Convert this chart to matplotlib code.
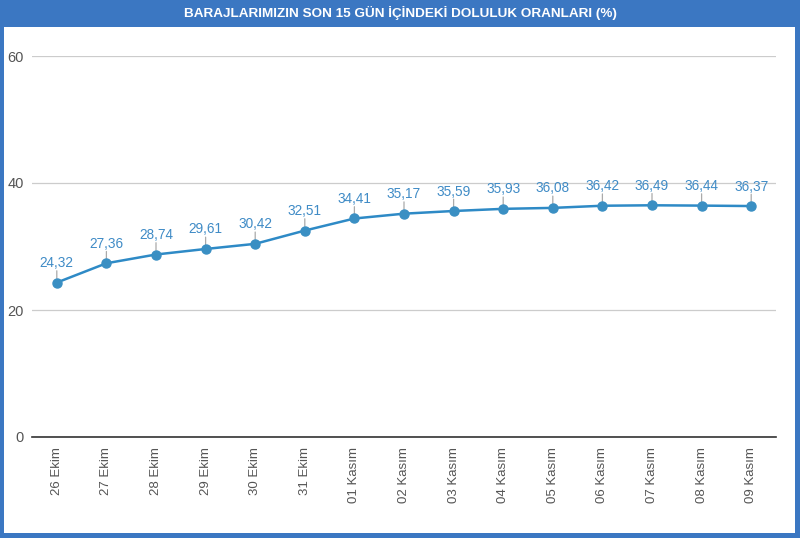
import matplotlib
matplotlib.use("Agg")
import matplotlib.pyplot as plt
from matplotlib.patches import Rectangle

dates = ["26 Ekim", "27 Ekim", "28 Ekim", "29 Ekim", "30 Ekim", "31 Ekim",
         "01 Kasım", "02 Kasım", "03 Kasım", "04 Kasım", "05 Kasım",
         "06 Kasım", "07 Kasım", "08 Kasım", "09 Kasım"]
values = [24.32, 27.36, 28.74, 29.61, 30.42, 32.51, 34.41, 35.17, 35.59,
          35.93, 36.08, 36.42, 36.49, 36.44, 36.37]
yticks = [0, 20, 40, 60]
title = "BARAJLARIMIZIN SON 15 GÜN İÇİNDEKİ DOLULUK ORANLARI (%)"

W, H = 800, 538
fig = plt.figure(figsize=(W / 100, H / 100), dpi=100)
blue = "#3b77c2"
# frame
fig.patches.append(Rectangle((0, 0), 1, 1, transform=fig.transFigure,
                             facecolor=blue, edgecolor="none", zorder=-10))
fig.patches.append(Rectangle((4 / W, 5 / H), (W - 9) / W, (H - 27 - 5) / H,
                             transform=fig.transFigure, facecolor="white",
                             edgecolor="none", zorder=-9))
fig.text(0.5, 1 - 13 / H, title, color="white", fontweight="bold",
         fontsize=9.7, ha="center", va="center", family="Liberation Sans")

left, right = 32, 776
top, bottom = 56, 437
ax = fig.add_axes([left / W, (H - bottom) / H, (right - left) / W, (bottom - top) / H])
ax.set_facecolor("none")
x = list(range(len(values)))
line_col = "#2e8ac6"
ax.plot(x, values, color=line_col, lw=1.8, marker="o", ms=6.5, mfc="#3a8fc3",
        mec="#3a8fc3", zorder=5, clip_on=False)
for xi, v in zip(x, values):
    ax.annotate("", xy=(xi, v), xytext=(0, 8.5), textcoords="offset points",
                xycoords="data",
                arrowprops=dict(arrowstyle="-", color="#aaaaaa", lw=0.9,
                                shrinkA=0, shrinkB=3))
    ax.annotate(f"{v:.2f}".replace(".", ","), xy=(xi, v), xytext=(0, 9),
                textcoords="offset points", ha="center", va="bottom",
                color="#3f8bc6", fontsize=9.8, family="Liberation Sans")

ax.set_xlim(-0.5, len(values) - 0.5)
ax.set_ylim(0, 60)
ax.set_yticks(yticks)
ax.set_yticklabels([str(t) for t in yticks], color="#555555", fontsize=10.5,
                   family="Liberation Sans")
ax.set_xticks(x)
ax.set_xticklabels(dates, rotation=90, color="#555555", fontsize=9.5,
                   family="Liberation Sans", va="top")
ax.tick_params(axis="y", length=0, pad=6)
ax.tick_params(axis="x", length=0, pad=7)
ax.grid(axis="y", color="#cccccc", lw=0.9)
ax.set_axisbelow(True)
for s in ["top", "right", "left"]:
    ax.spines[s].set_visible(False)
ax.spines["bottom"].set_color("#333333")
ax.spines["bottom"].set_linewidth(1.2)

fig.savefig("out.png", dpi=100)
